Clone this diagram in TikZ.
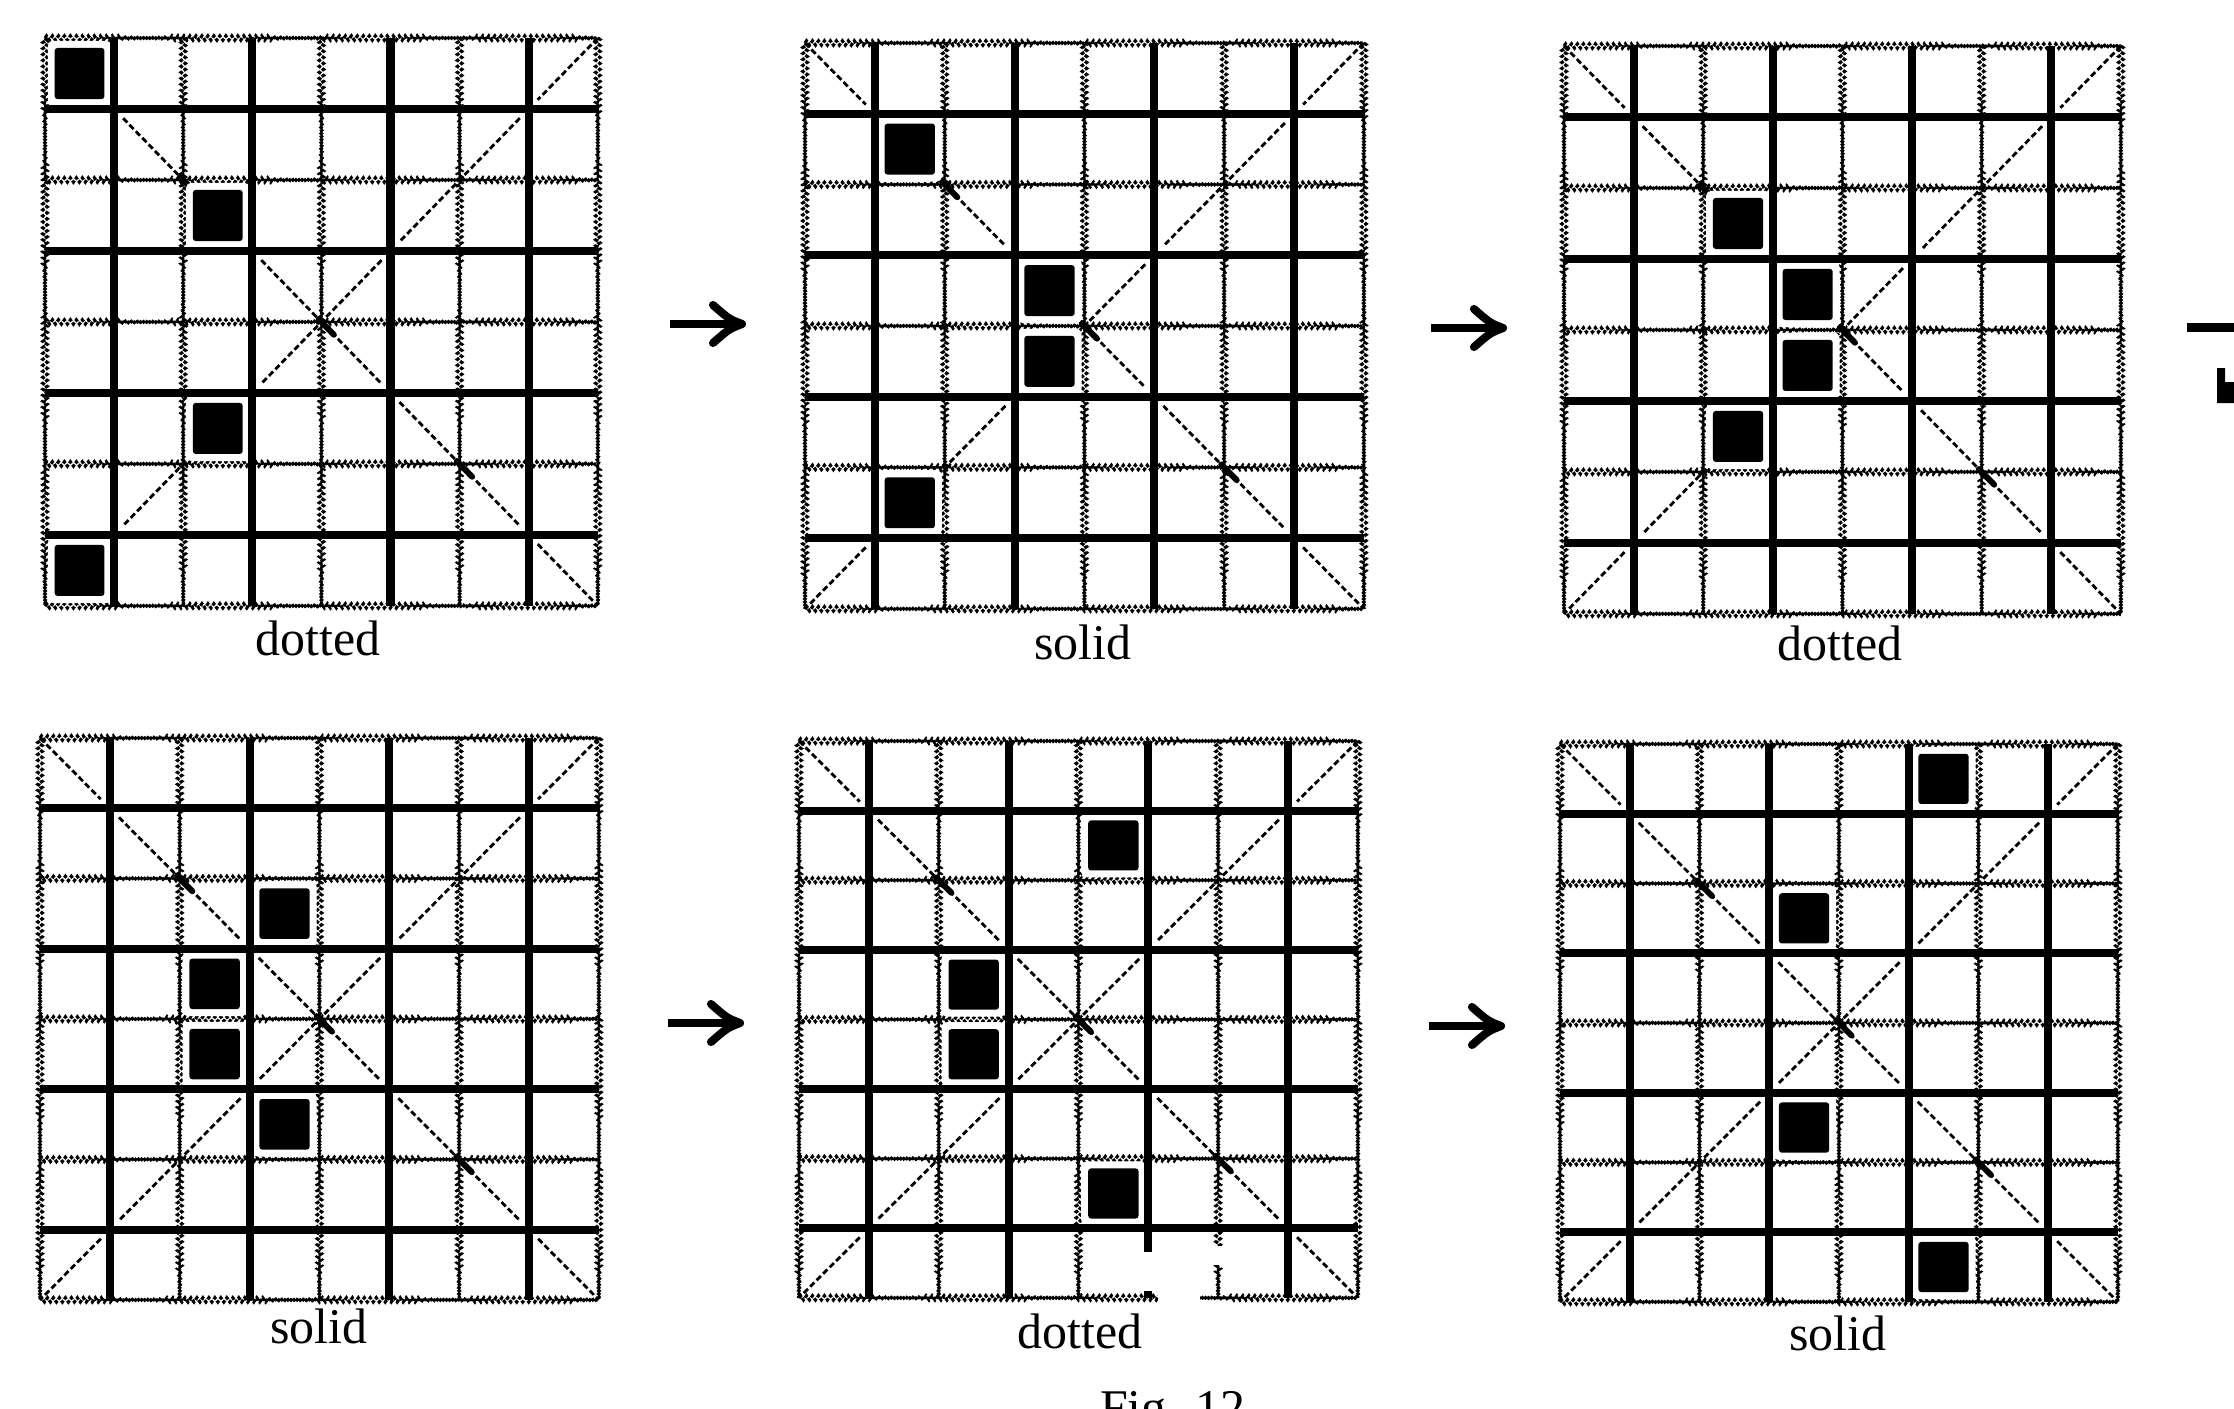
\documentclass[tikz,border=0pt]{standalone}
\usepackage{fontspec}
\setmainfont{Liberation Serif}
\usetikzlibrary{decorations.pathmorphing}
\tikzset{
  gdot/.style={line width=0.9pt, decorate, decoration={zigzag, amplitude=0.6pt, segment length=1.7pt}, dash pattern=on 1pt off 0.5pt},
  gthick/.style={line width=2.3pt},
  gdiag/.style={line width=0.8pt, dash pattern=on 1.7pt off 0.9pt},
  gknot/.style={line width=1.7pt, line cap=round},
  halo/.style={fill=white, rounded corners=1.5pt},
  stone/.style={fill=black, rounded corners=0.8pt},
  lbl/.style={font=\fontsize{14.2}{16}\selectfont, inner sep=0pt, anchor=base},
  shaft/.style={line width=2.1pt},
  barb/.style={line width=2.3pt, line join=round, line cap=round},
}
\newcommand\gridpanel[5]{%
\begin{scope}[shift={(#1*0.01cm,-#2*0.01cm)}, x={(#3*0.00125cm,0cm)}, y={(0cm,-#4*0.00125cm)}]
  \foreach \k in {0,2,4,6,8} {
    \draw[gdot] (\k,0) -- (\k,8);
    \draw[gdot] (0,\k) -- (8,\k);
  }
  % main diagonal
  \draw[gdiag] (0,0) -- (0.87,0.87);
  \draw[gdiag] (1.13,1.13) -- (2.87,2.87);
  \draw[gdiag] (3.13,3.13) -- (4.87,4.87);
  \draw[gdiag] (5.13,5.13) -- (6.87,6.87);
  \draw[gdiag] (7.13,7.13) -- (8,8);
  % anti diagonal
  \draw[gdiag] (8,0) -- (7.13,0.87);
  \draw[gdiag] (6.87,1.13) -- (5.13,2.87);
  \draw[gdiag] (4.87,3.13) -- (3.13,4.87);
  \draw[gdiag] (2.87,5.13) -- (1.13,6.87);
  \draw[gdiag] (0.87,7.13) -- (0,8);
  % knots
  \foreach \c in {2,4,6} {
    \draw[gknot] (\c-0.04,\c-0.04) -- (\c+0.18,\c+0.18);
  }
  \foreach \c/\r in {#5} {
    \fill[halo] (\c+0.04,\r+0.04) rectangle (\c+0.96,\r+0.96);
  }
  \foreach \k in {1,3,5,7} {
    \draw[gthick] (\k,0) -- (\k,8);
    \draw[gthick] (0,\k) -- (8,\k);
  }
  \foreach \c/\r in {#5} {
    \fill[stone] (\c+0.14,\r+0.14) rectangle (\c+0.86,\r+0.86);
  }
\end{scope}}
\newcommand\fwdarrow[3]{%
  \coordinate (#1s) at (#2,#3);
  \coordinate (#1e) at (#2+72,#3);
  \draw[shaft] (#1s) -- ([xshift=-0.05cm]#1e);
  \draw[barb] ([xshift=-0.29cm,yshift=0.19cm]#1e) .. controls ([xshift=-0.13cm,yshift=0.05cm]#1e) .. (#1e) .. controls ([xshift=-0.13cm,yshift=-0.05cm]#1e) .. ([xshift=-0.29cm,yshift=-0.19cm]#1e);
}
\begin{document}
\begin{tikzpicture}[x=0.01cm, y=-0.01cm]
\useasboundingbox (0,0) rectangle (2234,1408);
\fill[white] (0,0) rectangle (2234,1408);
\clip (0,0) rectangle (2234,1408);

\gridpanel{45}{38}{552}{567}{0/0,2/2,2/5,0/7}
\gridpanel{805}{43}{558}{565}{1/1,3/3,3/4,1/6}
\gridpanel{1564}{46}{556}{567}{2/2,3/3,3/4,2/5}
\gridpanel{40}{738}{558}{561}{3/2,2/3,2/4,3/5}
\gridpanel{799}{741}{558}{556}{4/1,2/3,2/4,4/6}
\gridpanel{1560}{744}{557}{557}{5/0,3/2,3/5,5/7}

% scan defects in the fifth panel
\fill[white] (1141,1252) rectangle (1156,1291);
\fill[white] (1158,1288) rectangle (1200,1306);
\fill[white] (1210,1246) rectangle (1227,1265);

\fwdarrow{ar1}{670}{324}
\fwdarrow{ar2}{1431}{328}
\fwdarrow{ar3}{668}{1023}
\fwdarrow{ar4}{1429}{1026}

% partial glyph at right edge
\fill (2187,323) rectangle (2234,332);
\fill (2217,368) -- (2225,368) -- (2225,382) -- (2234,382) -- (2234,403) -- (2217,403) -- cycle;

\node[lbl] (l1) at (318,655) {dotted};
\node[lbl] (l2) at (1083,659) {solid};
\node[lbl] (l3) at (1840,660) {dotted};
\node[lbl] (l4) at (319,1343) {solid};
\node[lbl] (l5) at (1080,1348) {dotted};
\node[lbl] (l6) at (1838,1350) {solid};
\node[lbl] (fig) at (1173,1424) {Fig. 12};
\end{tikzpicture}
\end{document}
